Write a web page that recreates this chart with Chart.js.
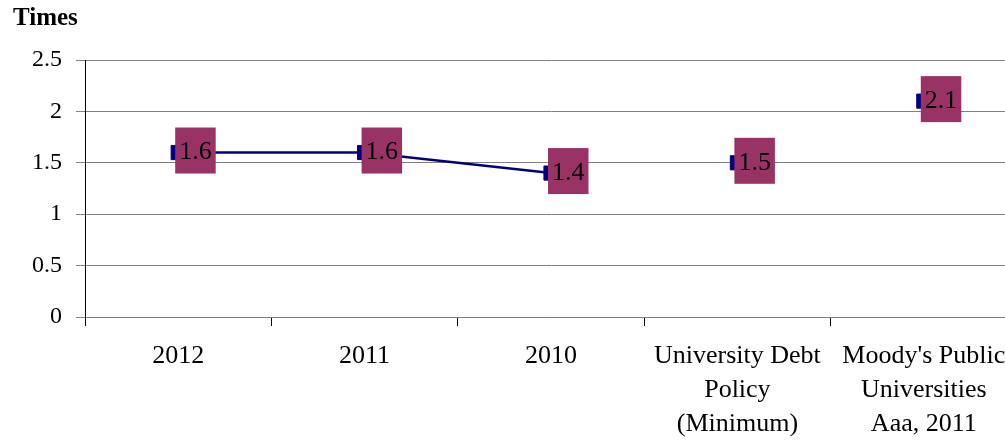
<!DOCTYPE html>
<html>
<head>
<meta charset="utf-8">
<script src="https://cdn.jsdelivr.net/npm/chart.js@4/dist/chart.umd.min.js"></script>
<style>
  html, body { margin: 0; padding: 0; background: #fff; overflow: hidden; }
  #wrap { position: relative; width: 1030px; height: 440px; }
</style>
</head>
<body>
<div id="wrap"><canvas id="chart"></canvas></div>
<script>
// Debt service coverage (times)
const axisTitle = 'Times';
const categories = [
  '2012',
  '2011',
  '2010',
  ['University Debt', 'Policy', '(Minimum)'],
  ["Moody's Public", 'Universities', 'Aaa, 2011']
];
const coverageHistory = [1.6, 1.6, 1.4, null, null];
const coverageBenchmarks = [null, null, null, 1.5, 2.1];
const yTickValues = [0, 0.5, 1, 1.5, 2, 2.5];
const yTickLabels = ['0', '0.5', '1', '1.5', '2', '2.5'];

const SERIF = '"Liberation Serif", "Times New Roman", serif';
const NAVY = '#000080';
const MAROON = '#993366';

// Axis caption above the value axis
const captionPlugin = {
  id: 'caption',
  afterDraw(chart) {
    const ctx = chart.ctx;
    ctx.save();
    ctx.font = 'bold 25px ' + SERIF;
    ctx.fillStyle = '#000';
    ctx.textAlign = 'left';
    ctx.textBaseline = 'alphabetic';
    ctx.fillText(axisTitle, 13, 25);
    ctx.restore();
  }
};

// Boxed value labels to the right of each point
const valueBoxPlugin = {
  id: 'valueBoxes',
  afterDatasetsDraw(chart) {
    const ctx = chart.ctx;
    ctx.save();
    ctx.font = '26px ' + SERIF;
    chart.data.datasets.forEach((ds, di) => {
      const meta = chart.getDatasetMeta(di);
      meta.data.forEach((pt, i) => {
        const v = ds.data[i];
        if (v === null || v === undefined) return;
        const txt = String(v);
        const w = ctx.measureText(txt).width + 8;
        const left = pt.x - 3;
        ctx.fillStyle = MAROON;
        ctx.fillRect(left, pt.y - 25, w, 46);
        ctx.fillStyle = '#000';
        ctx.textAlign = 'left';
        ctx.textBaseline = 'middle';
        ctx.fillText(txt, left + 4, pt.y);
      });
    });
    ctx.restore();
  }
};

const markerStyle = {
  pointStyle: 'rect',
  pointRadius: 10,
  pointBackgroundColor: NAVY,
  pointBorderColor: NAVY,
  pointBorderWidth: 1
};

new Chart(document.getElementById('chart'), {
  type: 'line',
  data: {
    labels: categories,
    datasets: [
      Object.assign({
        label: 'Coverage',
        data: coverageHistory,
        borderColor: NAVY,
        borderWidth: 2.5,
        tension: 0,
        spanGaps: false
      }, markerStyle),
      Object.assign({
        label: 'Benchmarks',
        data: coverageBenchmarks,
        showLine: false,
        borderColor: NAVY
      }, markerStyle)
    ]
  },
  options: {
    responsive: true,
    maintainAspectRatio: false,
    animation: false,
    events: [],
    layout: { padding: { top: 60, right: 13, bottom: 0, left: 0 } },
    plugins: {
      legend: { display: false },
      tooltip: { enabled: false },
      title: { display: false }
    },
    scales: {
      x: {
        type: 'category',
        offset: true,
        grid: {
          offset: true,
          drawOnChartArea: false,
          drawTicks: true,
          tickLength: 9,
          color: '#000',
          lineWidth: 1
        },
        border: { display: true, color: '#808080', width: 1 },
        ticks: {
          color: '#000',
          font: { family: SERIF, size: 26, lineHeight: 34 / 26 },
          padding: 13,
          maxRotation: 0,
          minRotation: 0,
          autoSkip: false
        },
        afterFit(scale) { scale.height = 123; }
      },
      y: {
        min: yTickValues[0],
        max: yTickValues[yTickValues.length - 1],
        afterBuildTicks(scale) {
          scale.ticks = yTickValues.map(v => ({ value: v }));
        },
        ticks: {
          color: '#000',
          font: { family: SERIF, size: 24 },
          padding: 14,
          callback(value) {
            const i = yTickValues.indexOf(value);
            return i >= 0 ? yTickLabels[i] : '';
          }
        },
        grid: {
          color: '#808080',
          lineWidth: 1,
          drawTicks: true,
          tickLength: 9
        },
        border: { display: true, color: '#000', width: 1 },
        afterFit(scale) { scale.width = 85; }
      }
    }
  },
  plugins: [captionPlugin, valueBoxPlugin]
});
</script>
</body>
</html>
